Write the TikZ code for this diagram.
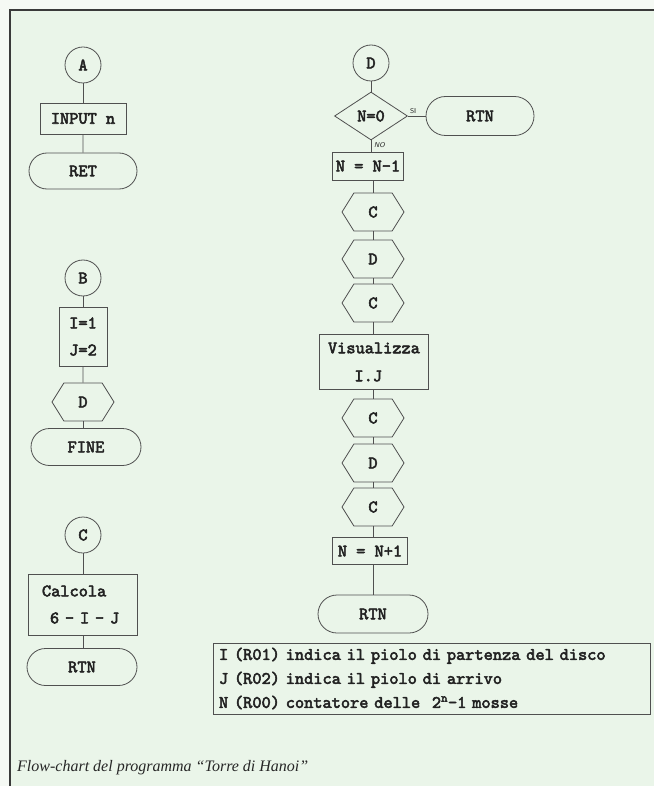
\documentclass[tikz,border=0pt]{standalone}
\usepackage{fontspec}
\setmainfont{Liberation Serif}
\newfontfamily\twfont{lmmono10-regular.otf}[FakeBold=3]
\usetikzlibrary{shapes.geometric,shapes.misc,shapes.symbols}
\definecolor{bgout}{HTML}{F5F9F4}
\definecolor{bgin}{HTML}{EAF5E9}
\definecolor{linec}{HTML}{505050}
\definecolor{framec}{HTML}{3A3A3A}
\definecolor{txtc}{HTML}{222222}
\begin{document}
\begin{tikzpicture}[x=1pt,y=-1pt,
  every node/.style={text=txtc},
  tw/.style={font=\twfont\fontsize{17.5}{24}\selectfont},
  shp/.style={draw=linec, line width=0.8pt, tw, inner sep=0pt},
  circ/.style={shp, circle, minimum size=36pt},
  boxs/.style={shp, rectangle},
  term/.style={shp, rounded rectangle, minimum width=108pt, minimum height=37pt},
  hexa/.style={shp, signal, signal to=east and west, signal pointer angle=116, minimum width=62pt, minimum height=38pt},
  dia/.style={shp, diamond, aspect=1.5, minimum width=73pt, minimum height=48pt},
  conn/.style={draw=linec, line width=0.8pt},
  lbl/.style={font=\fontsize{7}{7}\selectfont\sffamily, inner sep=1pt}
]
\useasboundingbox (0,0) rectangle (654,786);
\fill[bgout] (0,0) rectangle (654,786);
\fill[bgin] (10,10) rectangle (654,786);
\draw[draw=framec, line width=1.5pt] (10,786) -- (10,10) -- (654,10);

% left column
\node[circ] (A) at (83,65) {A};
\node[boxs, minimum width=86pt, minimum height=31pt] (inp) at (83,118.5) {INPUT n};
\node[term, minimum height=36pt] (ret) at (83,171) {RET};

\node[circ] (B) at (83,278) {B};
\node[boxs, minimum width=48pt, minimum height=59pt, align=center, font=\twfont\fontsize{17.5}{27}\selectfont] (ij) at (83,336.5) {I=1\\J=2};
\node[hexa] (hd) at (83,402) {D};
\node[term, minimum width=110pt] (fine) at (86,447) {FINE};

\node[circ] (C) at (83,535) {C};
\node[boxs, minimum width=109pt, minimum height=61pt, align=left, text width=100pt, font=\twfont\fontsize{17.5}{27}\selectfont] (calc) at (83,604.5) {\hspace*{9pt}Calcola\\\hspace*{17pt}6 - I - J};
\node[term, minimum width=110pt] (rtn1) at (82,667) {RTN};

% right column
\node[circ] (D) at (371,63) {D};
\node[dia] (nz) at (371,116) {N=0};
\node[term, minimum height=39pt] (rtn0) at (480,116) {RTN};
\node[boxs, minimum width=71pt, minimum height=28pt] (nm) at (368,166) {N = N-1};
\node[hexa] (c1) at (373,212) {C};
\node[hexa] (d1) at (373,259) {D};
\node[hexa] (c2) at (373,303) {C};
\node[boxs, minimum width=109pt, minimum height=55pt, align=left, text width=100pt, font=\twfont\fontsize{17.5}{28}\selectfont] (vis) at (373.5,362) {\hspace*{4.5pt}Visualizza\\\hspace*{31pt}I.J};
\node[hexa] (c3) at (373,418) {C};
\node[hexa] (d2) at (373,463) {D};
\node[hexa] (c4) at (373,507) {C};
\node[boxs, minimum width=75pt, minimum height=27pt] (np) at (370,551) {N = N+1};
\node[term, minimum width=110pt, minimum height=38pt] (rtn2) at (373,614) {RTN};

\node[lbl, anchor=south west] (si) at ([xshift=1pt,yshift=1pt]nz.east) {SI};
\node[lbl, anchor=north west, font=\fontsize{7}{7}\selectfont\sffamily\itshape] (no) at ([xshift=2pt,yshift=-1pt]nz.south) {NO};

% legend
\node[boxs, minimum width=437pt, minimum height=71pt, text width=425pt, align=left, font=\twfont\fontsize{17.5}{24}\selectfont] (leg) at (431.5,678.5) {I (R01) indica il piolo di partenza del disco\\J (R02) indica il piolo di arrivo\\N (R00) contatore delle\ \ 2\textsuperscript{n}-1 mosse};

% caption
\node[anchor=west, inner sep=0pt, text=black!85, font=\itshape\fontsize{16}{16}\selectfont] (cap) at (17,768) {Flow-chart del programma ``Torre di Hanoi''};

% connectors
\draw[conn] (A) -- (inp);
\draw[conn] (inp) -- (ret);
\draw[conn] (B) -- (ij);
\draw[conn] (ij) -- (hd);
\draw[conn] (hd.south) -- (hd.south |- fine.north);
\draw[conn] (C) -- (calc);
\draw[conn] (calc.south) -- (calc.south |- rtn1.north);

\draw[conn] (D) -- (nz);
\draw[conn] (nz) -- (rtn0);
\draw[conn] (nz.south) -- (nz.south |- nm.north);
\draw[conn] (c1.north |- nm.south) -- (c1.north);
\draw[conn] (c1.south) -- (d1.north);
\draw[conn] (d1.south) -- (c2.north);
\draw[conn] (c2.south) -- (c2.south |- vis.north);
\draw[conn] (c3.north |- vis.south) -- (c3.north);
\draw[conn] (c3.south) -- (d2.north);
\draw[conn] (d2.south) -- (c4.north);
\draw[conn] (c4.south) -- (c4.south |- np.north);
\draw[conn] (rtn2.north |- np.south) -- (rtn2.north);
\end{tikzpicture}
\end{document}
